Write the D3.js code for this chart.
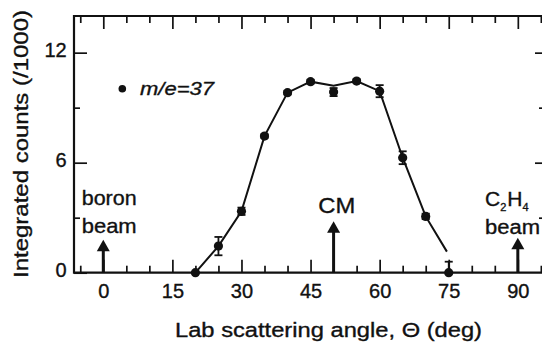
<!DOCTYPE html>
<html><head><meta charset="utf-8">
<script src="https://cdn.jsdelivr.net/npm/d3@7"></script>
<style>
html,body{margin:0;padding:0;background:#fff;}
svg{display:block;}
text{font-family:"Liberation Sans",Arial,Helvetica,sans-serif;fill:#111;stroke:#111;stroke-width:0.35px;}
</style></head>
<body>
<svg id="c" width="542" height="343"></svg>
<script>
// ---- data ----
const angles = [20, 25, 30, 35, 40, 45, 50, 55, 60, 65, 70, 75];
const counts = [0, 1.45, 3.35, 7.45, 9.82, 10.42, 9.85, 10.45, 9.9, 6.27, 3.07, 0];
const errors = [0, 0.5, 0.2, 0.1, 0.1, 0.1, 0.22, 0.1, 0.33, 0.35, 0.15, 0.6];
const fitAngles = [20, 25, 30, 35, 40, 45, 50, 55, 60, 65, 70, 74.6];
const fitCounts = [0, 1.45, 3.35, 7.45, 9.82, 10.42, 10.2, 10.45, 9.9, 6.27, 3.07, 1.15];
const xTickLabels = [0, 15, 30, 45, 60, 75, 90];
const xMinorTicks = [-5, 5, 10, 20, 25, 35, 40, 50, 55, 65, 70, 80, 85, 95];
const yTickLabels = [0, 6, 12];
const yMinorTicks = [3, 9];
const arrowAngles = [0, 50, 90];
const arrowTops = [1.8, 2.8, 1.9];
const seriesLabel = "m/e=37";

// ---- layout ----
const svg = d3.select("#c");
const L = 74, R = 545, T = 16, B = 272.7;
const x = d3.scaleLinear().domain([-6.36, 95.9]).range([L, R]);
const y = d3.scaleLinear().domain([0, 14]).range([B, T]);
const ink = "#111";

// frame
svg.append("path")
  .attr("d", `M${R},${T}H${L}V${B}H${R}`)
  .attr("fill", "none").attr("stroke", ink).attr("stroke-width", 2.2);

// bottom axis (inward ticks)
svg.append("g").attr("transform", `translate(0,${B})`)
  .call(d3.axisBottom(x).tickValues(xTickLabels).tickSize(-13).tickPadding(11.5).tickFormat(d3.format("d")));
svg.append("g").attr("transform", `translate(0,${B})`)
  .call(d3.axisBottom(x).tickValues(xMinorTicks.filter(d => x(d) > L + 2)).tickSize(-7).tickFormat(""));
// top axis
svg.append("g").attr("transform", `translate(0,${T})`)
  .call(d3.axisTop(x).tickValues(xTickLabels.filter(d => x(d) > L + 2)).tickSize(-13).tickFormat(""));
svg.append("g").attr("transform", `translate(0,${T})`)
  .call(d3.axisTop(x).tickValues(xMinorTicks.filter(d => x(d) > L + 2)).tickSize(-7).tickFormat(""));
// left axis
const gL = svg.append("g").attr("transform", `translate(${L},0)`)
  .call(d3.axisLeft(y).tickValues(yTickLabels).tickSize(-13).tickPadding(7.3).tickFormat(d3.format("d")));
svg.append("g").attr("transform", `translate(${L},0)`)
  .call(d3.axisLeft(y).tickValues(yMinorTicks).tickSize(-6).tickFormat(""));
// right axis
svg.append("g").attr("transform", `translate(${R},0)`)
  .call(d3.axisRight(y).tickValues(yTickLabels.filter(d => d > 0)).tickSize(-10).tickFormat(""));
svg.append("g").attr("transform", `translate(${R},0)`)
  .call(d3.axisRight(y).tickValues(yMinorTicks).tickSize(-6).tickFormat(""));

svg.selectAll(".domain").remove();
svg.selectAll(".tick line").attr("stroke", ink).attr("stroke-width", 1.7);
svg.selectAll(".tick text").attr("font-size", 20).attr("fill", ink)
  .style("font-family", '"Liberation Sans",Arial,sans-serif');
gL.selectAll(".tick text").attr("dy", "0.2em");

// fit line
const pts = angles.map((a, i) => ({a, c: counts[i], e: errors[i]}));
const fit = fitAngles.map((a, i) => ({a, c: fitCounts[i]}));
svg.append("path").datum(fit)
  .attr("d", d3.line().x(d => x(d.a)).y(d => y(d.c)))
  .attr("fill", "none").attr("stroke", ink).attr("stroke-width", 2);

// error bars
const eb = svg.append("g").attr("stroke", ink).attr("stroke-width", 1.8);
pts.filter(d => d.e > 0).forEach(d => {
  const hi = y(d.c + d.e), lo = y(Math.max(0, d.c - d.e)), cx = x(d.a);
  eb.append("line").attr("x1", cx).attr("x2", cx).attr("y1", hi).attr("y2", lo);
  eb.append("line").attr("x1", cx - 4).attr("x2", cx + 4).attr("y1", hi).attr("y2", hi);
  if (d.c - d.e > 0) eb.append("line").attr("x1", cx - 4).attr("x2", cx + 4).attr("y1", lo).attr("y2", lo);
});
// points
svg.append("g").selectAll("circle").data(pts).join("circle")
  .attr("cx", d => x(d.a)).attr("cy", d => y(d.c)).attr("r", 4.6).attr("fill", ink);

// arrows
const arrows = arrowAngles.map((a, i) => ({a, t: arrowTops[i]}));
const ag = svg.append("g");
arrows.forEach(d => {
  const cx = x(d.a), tip = y(d.t);
  ag.append("line").attr("x1", cx).attr("x2", cx).attr("y1", tip + 8).attr("y2", B)
    .attr("stroke", ink).attr("stroke-width", 3);
  ag.append("path").attr("d", `M${cx},${tip}L${cx - 6.5},${tip + 11.5}L${cx + 6.5},${tip + 11.5}Z`).attr("fill", ink);
});

// annotations
function txt(s, px, py, size, len, anchor) {
  const t = svg.append("text").attr("x", px).attr("y", py).attr("font-size", size)
    .attr("text-anchor", anchor || "start").text(s);
  if (len) t.attr("textLength", len).attr("lengthAdjust", "spacingAndGlyphs");
  return t;
}
txt("boron", 81.7, 205, 21, 55);
txt("beam", 81.7, 232.7, 21, 55);
txt("CM", 318.3, 212.7, 22, 37);
const ch = svg.append("text").attr("x", 485).attr("y", 205.5).attr("font-size", 21);
ch.append("tspan").text("C");
ch.append("tspan").attr("font-size", 11).attr("dy", 5.5).text("2");
ch.append("tspan").attr("dy", -5.5).attr("dx", 1).text("H");
ch.append("tspan").attr("font-size", 11).attr("dy", 5.5).text("4");
txt("beam", 485, 233.5, 20, 55);

// legend
svg.append("circle").attr("cx", 122.3).attr("cy", 88.7).attr("r", 3.8).attr("fill", ink);
txt(seriesLabel, 140, 95, 19, 74).attr("font-style", "italic");

// axis titles
txt("Lab scattering angle, \u0398 (deg)", 175, 336.7, 20.5, 307);
svg.append("text").attr("transform", "translate(28,144) rotate(-90)")
  .attr("text-anchor", "middle").attr("font-size", 21)
  .attr("textLength", 268).attr("lengthAdjust", "spacingAndGlyphs")
  .text("Integrated counts (/1000)");
</script>
</body></html>
